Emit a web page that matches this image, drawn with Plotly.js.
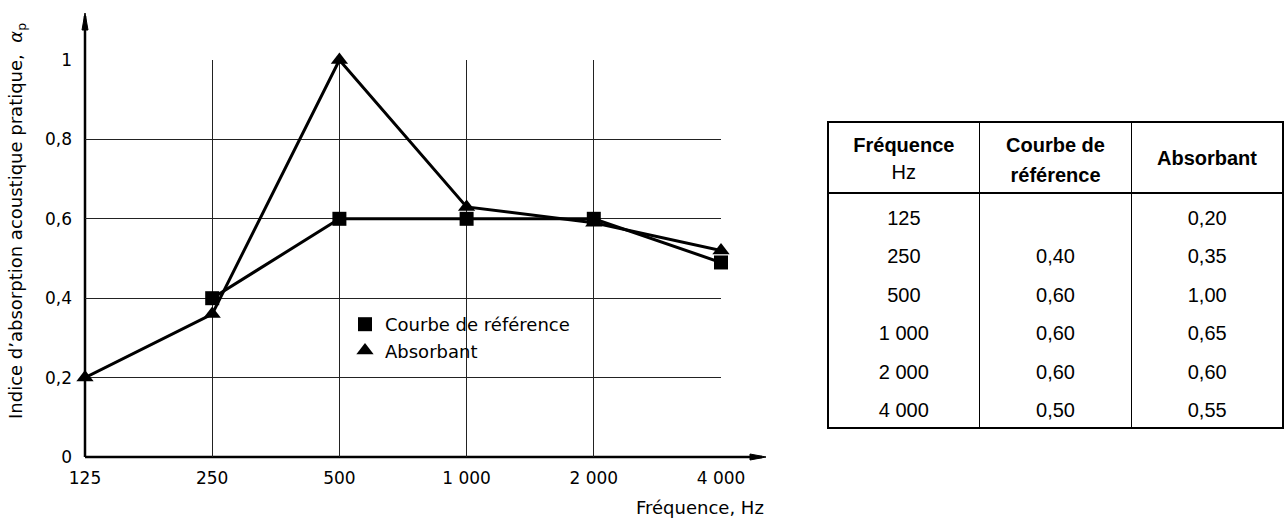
<!DOCTYPE html>
<html>
<head>
<meta charset="utf-8">
<script src="https://cdn.plot.ly/plotly-3.0.1.min.js"></script>
<style>html,body{margin:0;padding:0;background:#fff;}#chart{width:1286px;height:520px;}</style>
</head>
<body>
<div id="chart"></div>
<script>
// ---- data ----
var freqHz = [125, 250, 500, 1000, 2000, 4000];
var freqLabels = ['125', '250', '500', '1 000', '2 000', '4 000'];
var yTickVals = [0, 0.2, 0.4, 0.6, 0.8, 1];
var yTickLabels = ['0', '0,2', '0,4', '0,6', '0,8', '1'];
// values as plotted in the graph
var refCurve = [null, 0.40, 0.60, 0.60, 0.60, 0.49];
var absorbant = [0.20, 0.36, 1.00, 0.63, 0.59, 0.52];
// values as printed in the table
var tableRef = [null, 0.40, 0.60, 0.60, 0.60, 0.50];
var tableAbs = [0.20, 0.35, 1.00, 0.65, 0.60, 0.55];
var seriesNames = ['Courbe de référence', 'Absorbant'];
var headerLine1 = ['<b>Fréquence</b>', '<b>Courbe de</b>', ' '];
var headerLine2 = ['Hz', '<b>référence</b>', ' '];
var headerCol3 = '<b>Absorbant</b>';

function fmt(v) { return v == null ? ' ' : v.toFixed(2).replace('.', ','); }

var techFont = 'DejaVu Sans, sans-serif';
var tabFont = 'Liberation Sans, Arial, sans-serif';

// pixel helpers for layout (margins)
var W = 1286, H = 520, ML = 85, MR = 2, MT = 60, MB = 63;
var PW = W - ML - MR, PH = H - MT - MB;
function px(x) { return (x - ML) / PW; }
function py(y) { return (H - MB - y) / PH; }

var clear = 'rgba(0,0,0,0)';
var tabTextFont = {family: tabFont, size: 20, color: '#000'};
var lineStyle = {color: '#000', width: 3};
var tableX = [px(828), 1];
function headerOnly(values, top, height) {
  return {type: 'table', domain: {x: tableX, y: [0, py(top)]}, columnwidth: [1, 1, 1],
    header: {values: values, height: height, align: 'center',
             line: {color: clear, width: 0}, fill: {color: clear}, font: tabTextFont},
    cells: {values: [[], [], []], line: {color: clear, width: 0}, fill: {color: clear}}};
}

var traces = [
  {type: 'scatter', mode: 'lines', x: freqHz, y: refCurve, line: lineStyle, showlegend: false, hoverinfo: 'skip', cliponaxis: false},
  {type: 'scatter', mode: 'lines', x: freqHz, y: absorbant, line: lineStyle, showlegend: false, hoverinfo: 'skip', cliponaxis: false},
  {type: 'scatter', mode: 'markers', name: seriesNames[0], x: freqHz, y: refCurve, cliponaxis: false,
   marker: {symbol: 'square', size: 14, color: '#000'}},
  {type: 'scatter', mode: 'markers', name: seriesNames[1], x: freqHz, y: absorbant, cliponaxis: false,
   marker: {symbol: 'triangle-up', size: 15, color: '#000'}},
  // table frame: header box + one box per column for the body
  {type: 'table', domain: {x: tableX, y: [0, py(122)]}, columnwidth: [1, 1, 1],
   header: {values: [[' '], [' '], [' ']], height: 71,
            line: {color: '#000', width: 1.5}, fill: {color: '#fff'}, font: tabTextFont},
   cells: {values: [[' '], [' '], [' ']], height: 235,
           line: {color: '#000', width: 1.5}, fill: {color: '#fff'}, font: tabTextFont}},
  // header texts, line by line
  headerOnly(headerLine1, 126, 36),
  headerOnly(headerLine2, 156, 36),
  // single-line header (column 3) and body values
  {type: 'table', domain: {x: tableX, y: [0, py(139)]}, columnwidth: [1, 1, 1],
   header: {values: [' ', ' ', headerCol3], height: 63, align: 'center',
            line: {color: clear, width: 0}, fill: {color: clear}, font: tabTextFont},
   cells: {values: [freqLabels, tableRef.map(fmt), tableAbs.map(fmt)], height: 38.4, align: 'center',
           line: {color: clear, width: 0}, fill: {color: clear}, font: tabTextFont}}
];

var layout = {
  width: W, height: H,
  margin: {l: ML, r: MR, t: MT, b: MB},
  paper_bgcolor: '#fff', plot_bgcolor: '#fff',
  font: {family: techFont, color: '#000', size: 17},
  showlegend: true,
  legend: {x: px(345), y: py(306), xanchor: 'left', yanchor: 'top', bgcolor: clear,
           borderwidth: 0, font: {family: techFont, size: 18, color: '#000'}},
  xaxis: {type: 'log', domain: [0, px(721)], range: [Math.log10(125), Math.log10(4000)],
          tickvals: freqHz, ticktext: freqLabels, showgrid: true, gridcolor: '#222', gridwidth: 1,
          zeroline: false, showline: false, ticks: '', ticklabelstandoff: 9,
          tickfont: {family: techFont, size: 17, color: '#000'}, fixedrange: true},
  yaxis: {domain: [0, 1], range: [0, 1], tickvals: yTickVals, ticktext: yTickLabels,
          showgrid: true, gridcolor: '#222', gridwidth: 1, zeroline: false, showline: false,
          ticks: '', ticklabelstandoff: 12,
          tickfont: {family: techFont, size: 17, color: '#000'}, fixedrange: true},
  shapes: [
    // white box behind legend
    {type: 'rect', xref: 'paper', yref: 'paper', x0: px(343), x1: px(592), y0: py(376), y1: py(300),
     fillcolor: '#fff', line: {width: 0}, layer: 'between'},
    // axis lines with arrows
    {type: 'line', xref: 'paper', yref: 'paper', x0: 0, y0: 0, x1: 0, y1: py(16),
     line: {color: '#000', width: 2.5}, layer: 'between'},
    {type: 'line', xref: 'paper', yref: 'paper', x0: 0, y0: 0, x1: px(762), y1: 0,
     line: {color: '#000', width: 2.5}, layer: 'between'},
    {type: 'path', xref: 'paper', yref: 'paper',
     path: 'M ' + px(82) + ' ' + py(30) + ' L ' + px(85) + ' ' + py(13) + ' L ' + px(88) + ' ' + py(30) + ' Z',
     fillcolor: '#000', line: {color: '#000', width: 1}, layer: 'between'},
    {type: 'path', xref: 'paper', yref: 'paper',
     path: 'M ' + px(750) + ' ' + py(454) + ' L ' + px(766) + ' ' + py(457) + ' L ' + px(750) + ' ' + py(460) + ' Z',
     fillcolor: '#000', line: {color: '#000', width: 1}, layer: 'between'}
  ],
  annotations: [
    {xref: 'paper', yref: 'paper', x: px(766), y: py(507), xanchor: 'right', yanchor: 'middle',
     text: 'Fréquence, Hz', showarrow: false, font: {family: techFont, size: 18, color: '#000'}},
    {xref: 'paper', yref: 'paper', x: px(17), y: py(221), xanchor: 'center', yanchor: 'middle',
     textangle: -90, text: 'Indice d’absorption acoustique pratique,  <i>α</i><sub>p</sub>',
     showarrow: false, font: {family: techFont, size: 18, color: '#000'}}
  ]
};

Plotly.newPlot('chart', traces, layout, {displayModeBar: false, staticPlot: true});
</script>
</body>
</html>
